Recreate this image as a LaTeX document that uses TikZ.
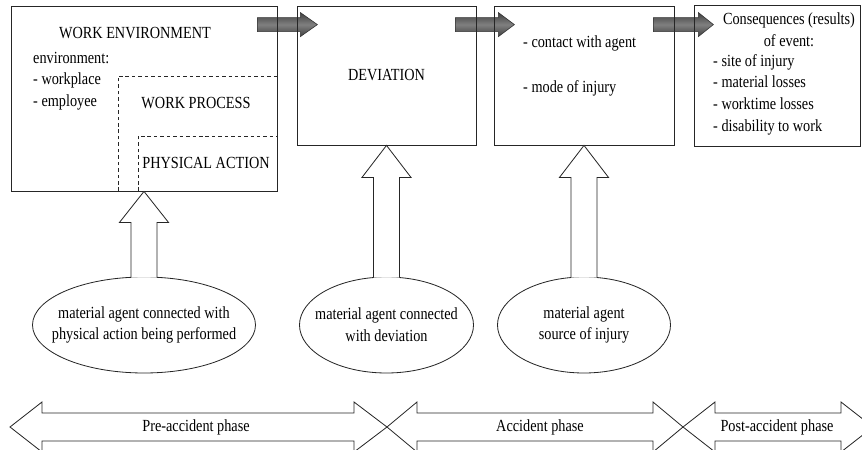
\documentclass[tikz,border=0pt]{standalone}
\usepackage{fontspec}
\setmainfont{Liberation Serif}
\usetikzlibrary{calc,shapes.geometric,backgrounds}

\tikzset{
  box/.style={draw=black!85, line width=0.7pt, inner sep=0pt},
  zone/.style={draw=black!85, line width=0.6pt, dash pattern=on 3pt off 2.5pt},
  agent/.style={draw=black!85, line width=0.7pt, ellipse, fill=white, inner sep=0pt, minimum height=2.88cm},
  hollow/.style={draw=black!85, line width=0.7pt, fill=white},
  flow/.style={draw=black!80, line width=0.5pt, top color=black!75, bottom color=black!75, middle color=black!50},
  phase/.style={draw=black!85, line width=0.7pt, line join=miter},
  txt/.style={font=\fontsize{14.5}{18.5}\selectfont, xscale=0.84, transform shape, inner sep=0pt, align=center},
}

\begin{document}
\begin{tikzpicture}[x=0.03cm, y=-0.03cm]
  \useasboundingbox (0,0) rectangle (862,450);

  % boxes of the event chain
  \node[box, minimum width=7.98cm, minimum height=5.55cm] (env) at (144,98.5) {};
  \node[box, minimum width=5.37cm, minimum height=4.17cm] (dev) at (386.5,75.5) {};
  \node[box, minimum width=5.4cm, minimum height=4.17cm] (cont) at (584,75.5) {};
  \node[box, minimum width=4.98cm, minimum height=4.23cm] (cons) at (777,75.5) {};

  % nested zones of the work environment
  \draw[zone] (118,191) |- (277,76);
  \draw[zone] (138,191) |- (277,136);

  % box texts
  \node[txt] (envT) at (135,33) {WORK ENVIRONMENT};
  \node[txt, anchor=west, align=left] (envL) at (33,81) {environment:\\- workplace\\- employee};
  \node[txt] (procT) at (196,103) {WORK PROCESS};
  \node[txt] (physT) at (206,163) {PHYSICAL ACTION};
  \node[txt] (devT) at (dev) {DEVIATION};
  \node[txt, anchor=west] (contA) at (523,43) {- contact with agent};
  \node[txt, anchor=west] (contB) at (523,88) {- mode of injury};
  \node[txt] (consT) at (789,30) {Consequences (results)\\of event:};
  \node[txt, anchor=west, align=left] (consL) at (713,94.5) {- site of injury\\- material losses\\- worktime losses\\- disability to work};

  % dark arrows between the boxes
  \begin{scope}[on background layer]
    \draw[flow] ($(env.north east)+(-20,12)$) -- ++(43,0) -- ++(0,-5) -- ++(17,12) -- ++(-17,12) -- ++(0,-5) -- ++(-43,0) -- cycle;
    \draw[flow] ($(dev.north east)+(-21,12)$) -- ++(43,0) -- ++(0,-5) -- ++(16,12) -- ++(-16,12) -- ++(0,-5) -- ++(-43,0) -- cycle;
    \draw[flow] ($(cont.north east)+(-21,12)$) -- ++(45,0) -- ++(0,-5) -- ++(15,12) -- ++(-15,12) -- ++(0,-5) -- ++(-45,0) -- cycle;
  \end{scope}

  % material agents
  \node[agent, minimum width=6.69cm] (agA) at (144,325) {};
  \node[agent, minimum width=5.22cm] (agB) at (386.5,325) {};
  \node[agent, minimum width=5.19cm] (agC) at (584,325) {};
  \node[txt] (agAT) at (agA) {material agent connected with\\physical action being performed};
  \node[txt] (agBT) at (agB) {material agent connected\\with deviation};
  \node[txt] (agCT) at (agC) {material agent\\source of injury};

  % hollow arrows up to the boxes
  \draw[hollow] ($(agA.north)+(-13,1)$) |- ($(env.south)+(-24.5,31)$) -- (env.south) -- ($(env.south)+(24.5,31)$) -| ($(agA.north)+(13,1)$);
  \draw[hollow] ($(agB.north)+(-13,1)$) |- ($(dev.south)+(-24.5,32)$) -- (dev.south) -- ($(dev.south)+(24.5,32)$) -| ($(agB.north)+(13,1)$);
  \draw[hollow] ($(agC.north)+(-13,1)$) |- ($(cont.south)+(-24.5,32)$) -- (cont.south) -- ($(cont.south)+(24.5,32)$) -| ($(agC.north)+(13,1)$);

  % phases
  \coordinate (p0) at (10,427);
  \coordinate (p1) at (387,427);
  \coordinate (p2) at (683,427);
  \coordinate (p3) at (873,427);
  \draw[phase] (p0) -- ++(32,-25) -- ++(0,11) -- ($(p1)+(-33,-14)$) -- ++(0,-11) -- (p1) -- ++(-33,25) -- ++(0,-11) -- ($(p0)+(32,14)$) -- ++(0,11) -- cycle;
  \draw[phase] (p1) -- ++(30,-25) -- ++(0,11) -- ($(p2)+(-30,-14)$) -- ++(0,-11) -- (p2) -- ++(-30,25) -- ++(0,-11) -- ($(p1)+(30,14)$) -- ++(0,11) -- cycle;
  \draw[phase] (p2) -- ++(32,-25) -- ++(0,11) -- ($(p3)+(-32,-14)$) -- ++(0,-11) -- (p3) -- ++(-32,25) -- ++(0,-11) -- ($(p2)+(32,14)$) -- ++(0,11) -- cycle;
  \node[txt] (preT) at (196,427) {Pre-accident phase};
  \node[txt] (accT) at (540,427) {Accident phase};
  \node[txt] (postT) at (777,427) {Post-accident phase};
\end{tikzpicture}
\end{document}
